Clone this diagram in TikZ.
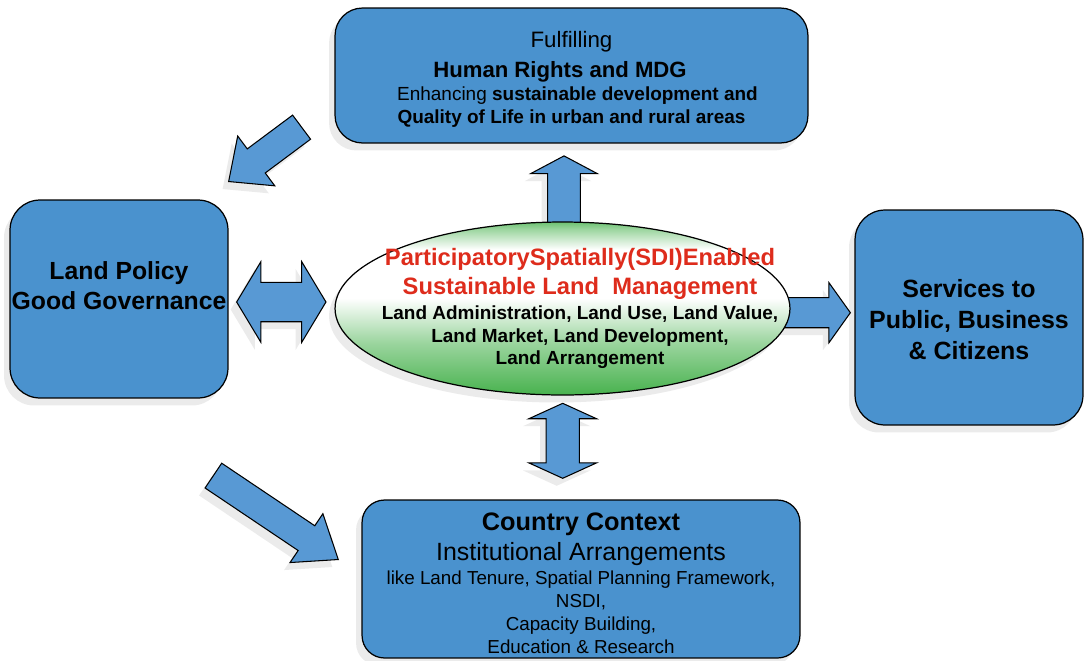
\documentclass[tikz,border=0pt]{standalone}
\usepackage{fontspec}
\setmainfont{Liberation Sans}
\usetikzlibrary{shapes,arrows,shadows}

\definecolor{boxblue}{RGB}{74,146,206}
\definecolor{arrowblue}{RGB}{88,153,212}
\definecolor{slmgreen}{RGB}{72,178,78}
\definecolor{slmred}{RGB}{222,44,28}
\newcommand{\setfs}[2]{\fontsize{#1}{#2}\selectfont}
\pgfdeclareverticalshading{slmshade}{100bp}{color(0bp)=(slmgreen); color(25bp)=(slmgreen); color(40bp)=(slmgreen!55!white); color(53bp)=(white); color(67bp)=(white); color(73bp)=(slmgreen!55!white); color(75bp)=(slmgreen!80!white); color(100bp)=(slmgreen!80!white)}

\begin{document}
\begin{tikzpicture}[
    x=0.02cm, y=-0.02cm,
    shadowed/.style={drop shadow={shadow xshift=-0.12cm, shadow yshift=-0.15cm, fill=black!8, opacity=1}},
    box/.style={rectangle, draw, line width=0.7pt, fill=boxblue, rounded corners=0.55cm, align=center, inner sep=0pt, shadowed},
    blockarrow/.style={single arrow, draw, line width=0.6pt, fill=arrowblue, inner xsep=0pt, minimum width=0pt, anchor=tip, shadowed},
    dblarrow/.style={double arrow, draw, line width=0.6pt, fill=arrowblue, inner xsep=0pt, minimum width=0pt, shadowed}
]
\useasboundingbox (0,0) rectangle (1088,660);

% ボックス
\node[box, minimum width=9.46cm, minimum height=2.7cm, font=\setfs{10.8}{13}] (goals) at (571.5,75.5)
    {\rule{0pt}{13.6pt}{\setfs{12.7}{13}Fulfilling}\\[4.4pt]
     {\setfs{12.6}{13}\bfseries Human Rights and MDG}\hspace*{0.46cm}\null\\
     \hspace*{0.24cm}Enhancing \textbf{sustainable development and}\\
     \textbf{Quality of Life in urban and rural areas}};
\node[box, minimum width=4.36cm, minimum height=3.96cm, rounded corners=0.6cm] (policy) at (119,299) {};
\node[align=center, font=\setfs{14.1}{17}\bfseries] (policytext) at (119,285.5) {Land Policy\\Good Governance};
\node[box, minimum width=4.56cm, minimum height=4.3cm, rounded corners=0.6cm, font=\setfs{14.2}{17.6}\bfseries] (services) at (969,317.5)
    {\rule{0pt}{12.8pt}Services to\\Public, Business\\\& Citizens};
\node[box, minimum width=8.76cm, minimum height=3.16cm, rounded corners=0.45cm, font=\setfs{10.7}{13.1}] (context) at (581,579)
    {\rule{0pt}{14.6pt}{\setfs{14.4}{13}\bfseries Country Context}\\[3pt]
     {\setfs{14.2}{13}Institutional Arrangements}\\[0.5pt]
     like Land Tenure, Spatial Planning Framework,\\
     NSDI,\\
     Capacity Building,\\
     Education \& Research};

% ブロック矢印 (単方向は先端で位置決め)
\node[blockarrow, rotate=216.7, minimum height=1.82cm, inner ysep=0.29cm, single arrow head extend=0.32cm, single arrow tip angle=84] (toPolicy) at (228,182) {};
\node[blockarrow, rotate=-33.9, minimum height=3.01cm, inner ysep=0.288cm, single arrow head extend=0.29cm, single arrow tip angle=75] (toContext) at (339,560) {};
\node[dblarrow, minimum height=1.786cm, inner ysep=0.384cm, double arrow head extend=0.412cm, double arrow tip angle=118] (policyLink) at (281.3,302) {};
\node[blockarrow, minimum height=1.62cm, inner ysep=0.29cm, single arrow head extend=0.30cm, single arrow tip angle=109] (toServices) at (851,312.7) {};
\node[blockarrow, rotate=90, minimum height=1.49cm, inner ysep=0.316cm, single arrow head extend=0.34cm, single arrow tip angle=124] (toGoals) at (564,155.3) {};
\node[dblarrow, rotate=90, minimum height=1.5cm, inner ysep=0.323cm, double arrow head extend=0.344cm, double arrow tip angle=131] (contextLink) at (562.7,440.8) {};

% 中央の楕円
\node[ellipse, draw, line width=0.7pt, shading=slmshade, minimum width=9.1cm, minimum height=3.46cm, inner sep=0pt, shadowed] (slm) at (562.5,308.5) {};
\node[align=center, font=\setfs{10.8}{12.7}\bfseries] (slmtext) at (580,308.5)
    {{\color{slmred}\setfs{13.5}{12.7}ParticipatorySpatially(SDI)Enabled}\\[3.8pt]
     {\color{slmred}\setfs{13.5}{12.7}Sustainable Land\ \ Management}\\[1.7pt]
     Land Administration, Land Use, Land Value,\\
     Land Market, Land Development,\\
     Land Arrangement};
\end{tikzpicture}
\end{document}
